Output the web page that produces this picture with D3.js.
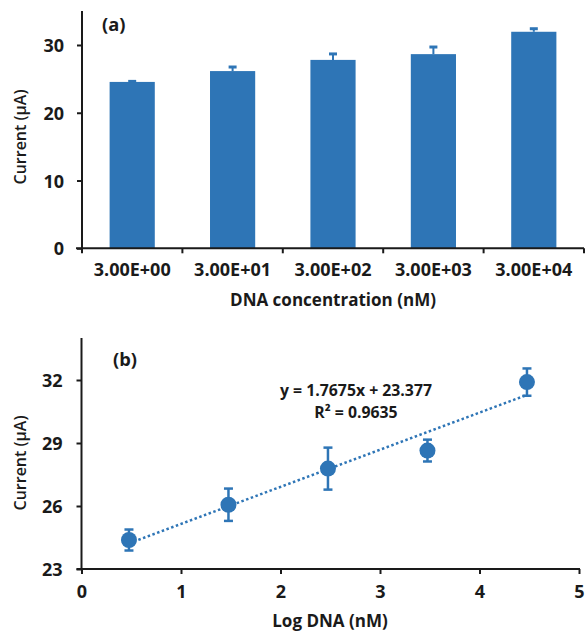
<!DOCTYPE html>
<html>
<head>
<meta charset="utf-8">
<script src="https://cdn.jsdelivr.net/npm/d3@7"></script>
<style>
  html, body { margin: 0; padding: 0; background: #fff; }
  svg { display: block; }
  text { font-family: "Open Sans", Lato, sans-serif; fill: #1a1a1a; }
</style>
</head>
<body>
<svg id="chart" width="587" height="631"></svg>
<script>
// ---- data ----
const categories = ["3.00E+00", "3.00E+01", "3.00E+02", "3.00E+03", "3.00E+04"];
const barValues = [24.55, 26.15, 27.8, 28.65, 31.95];
const barErrors = [0.08, 0.6, 0.88, 1.05, 0.45];
const barYTicks = [0, 10, 20, 30];

const logDNA = [0.477, 1.477, 2.477, 3.477, 4.477];
const scatterValues = [24.38, 26.06, 27.78, 28.64, 31.9];
const scatterErrors = [0.5, 0.77, 1.0, 0.52, 0.65];
const scatterXTicks = [0, 1, 2, 3, 4, 5];
const scatterYTicks = [23, 26, 29, 32];
const fitSlope = 1.7675;
const fitIntercept = 23.377;
const fitR2 = "0.9635";

const blue = "#2E75B6";
const axisColor = "#1a1a1a";
const svg = d3.select("#chart");

// font size that makes a sample string a given width
function sizeFor(str, weight, targetWidth) {
  const t = svg.append("text").attr("font-size", 20).attr("font-weight", weight).text(str);
  const w = t.node().getComputedTextLength();
  t.remove();
  return 20 * targetWidth / w;
}
const tickSize = sizeFor("3.00E+00", 700, 77);
const titleSize = sizeFor("DNA concentration (nM)", 700, 206);
const yTitleSize = sizeFor("Current (µA)", 600, 95);
const eqSize = Math.min(15.8, sizeFor("y = 1.7675x + 23.377", 700, 157));
const panelSize = sizeFor("(b)", 700, 24);

function styleAxis(g) {
  g.select(".domain").remove();
  g.selectAll(".tick line").attr("stroke", axisColor).attr("stroke-width", 2);
  g.selectAll(".tick text").attr("font-size", tickSize).attr("font-weight", 700).attr("fill", axisColor)
    .style("font-family", '"Open Sans", sans-serif');
}

// ================= (a) bar chart =================
const xA = d3.scaleBand().domain(categories).range([82, 584]).paddingInner(0.55).paddingOuter(0.275);
const yA = d3.scaleLinear().domain([0, 35]).range([248.3, 11.1]);

const gA = svg.append("g");
gA.selectAll("rect.bar").data(categories).join("rect")
  .attr("class", "bar")
  .attr("x", d => xA(d))
  .attr("width", xA.bandwidth())
  .attr("y", (d, i) => yA(barValues[i]))
  .attr("height", (d, i) => yA(0) - yA(barValues[i]))
  .attr("fill", blue);
categories.forEach((c, i) => {
  const cx = xA(c) + xA.bandwidth() / 2;
  gA.append("line").attr("x1", cx).attr("x2", cx)
    .attr("y1", yA(barValues[i])).attr("y2", yA(barValues[i] + barErrors[i]))
    .attr("stroke", blue).attr("stroke-width", 2);
  gA.append("line").attr("x1", cx - 4).attr("x2", cx + 4)
    .attr("y1", yA(barValues[i] + barErrors[i])).attr("y2", yA(barValues[i] + barErrors[i]))
    .attr("stroke", blue).attr("stroke-width", 3);
});
const yAxisA = gA.append("g").attr("transform", `translate(${xA.range()[0]},0)`)
  .call(d3.axisLeft(yA).tickValues(barYTicks).tickSize(5).tickPadding(13).tickFormat(d3.format("d")));
styleAxis(yAxisA);
yAxisA.selectAll(".tick text").attr("dy", "0.36em");
gA.append("line").attr("x1", xA.range()[0]).attr("x2", xA.range()[0])
  .attr("y1", yA(35)).attr("y2", yA(0) + 1).attr("stroke", axisColor).attr("stroke-width", 2);
const xAxisA = gA.append("g").attr("transform", `translate(0,${yA(0)})`)
  .call(d3.axisBottom(xA).tickSize(0).tickPadding(15));
styleAxis(xAxisA);
xAxisA.selectAll(".tick text").attr("dy", "0.71em");
gA.append("line").attr("x1", xA.range()[0] - 6).attr("x2", xA.range()[1])
  .attr("y1", yA(0)).attr("y2", yA(0)).attr("stroke", axisColor).attr("stroke-width", 2);
d3.range(categories.length + 1).forEach(k => {
  const bx = xA.range()[0] + k * xA.step();
  gA.append("line").attr("x1", bx).attr("x2", bx).attr("y1", yA(0)).attr("y2", yA(0) + 5)
    .attr("stroke", axisColor).attr("stroke-width", 2);
});
gA.append("text").attr("x", 333).attr("y", 306).attr("text-anchor", "middle")
  .attr("font-size", titleSize).attr("font-weight", 700).text("DNA concentration (nM)");
gA.append("text").attr("transform", "translate(26,137) rotate(-90)").attr("text-anchor", "middle")
  .attr("font-size", yTitleSize).attr("font-weight", 600).text("Current (µA)");
gA.append("text").attr("x", 102).attr("y", 31).attr("font-size", panelSize).attr("font-weight", 700).text("(a)");

// ================= (b) scatter chart =================
const xB = d3.scaleLinear().domain([0, 5]).range([81.5, 579]);
const yB = d3.scaleLinear().domain([23, 34]).range([569, 338]);
const gB = svg.append("g");

const yAxisB = gB.append("g").attr("transform", `translate(${xB(0)},0)`)
  .call(d3.axisLeft(yB).tickValues(scatterYTicks).tickSize(5).tickPadding(14).tickFormat(d3.format("d")));
styleAxis(yAxisB);
yAxisB.selectAll(".tick text").attr("dy", "0.36em");
gB.append("line").attr("x1", xB(0)).attr("x2", xB(0))
  .attr("y1", yB(34)).attr("y2", yB(23) + 1).attr("stroke", axisColor).attr("stroke-width", 2);
const xAxisB = gB.append("g").attr("transform", `translate(0,${yB(23)})`)
  .call(d3.axisBottom(xB).tickValues(scatterXTicks).tickSize(5).tickPadding(11).tickFormat(d3.format("d")));
styleAxis(xAxisB);
xAxisB.selectAll(".tick text").attr("dy", "0.71em");
gB.append("line").attr("x1", xB(0) - 5).attr("x2", xB(5) + 1)
  .attr("y1", yB(23)).attr("y2", yB(23)).attr("stroke", axisColor).attr("stroke-width", 2);

const fitX = [logDNA[0], logDNA[logDNA.length - 1]];
gB.append("line")
  .attr("x1", xB(fitX[0])).attr("y1", yB(fitSlope * fitX[0] + fitIntercept))
  .attr("x2", xB(fitX[1])).attr("y2", yB(fitSlope * fitX[1] + fitIntercept))
  .attr("stroke", blue).attr("stroke-width", 2.5).attr("stroke-dasharray", "2.5,2.5");

logDNA.forEach((x, i) => {
  const cx = xB(x), top = yB(scatterValues[i] + scatterErrors[i]), bot = yB(scatterValues[i] - scatterErrors[i]);
  gB.append("line").attr("x1", cx).attr("x2", cx).attr("y1", top).attr("y2", bot)
    .attr("stroke", blue).attr("stroke-width", 2.5);
  [top, bot].forEach(yy => gB.append("line").attr("x1", cx - 4.5).attr("x2", cx + 4.5)
    .attr("y1", yy).attr("y2", yy).attr("stroke", blue).attr("stroke-width", 2.5));
});
gB.selectAll("circle.pt").data(logDNA).join("circle")
  .attr("class", "pt")
  .attr("cx", d => xB(d))
  .attr("cy", (d, i) => yB(scatterValues[i]))
  .attr("r", 8)
  .attr("fill", blue);

// trendline label (two lines)
gB.append("text").attr("x", 356).attr("y", 396).attr("text-anchor", "middle")
  .attr("font-size", eqSize).attr("font-weight", 700)
  .text(`y = ${fitSlope}x + ${fitIntercept}`);
gB.append("text").attr("x", 356).attr("y", 418).attr("text-anchor", "middle")
  .attr("font-size", eqSize).attr("font-weight", 700)
  .text(`R² = ${fitR2}`);

gB.append("text").attr("x", 330).attr("y", 627).attr("text-anchor", "middle")
  .attr("font-size", titleSize).attr("font-weight", 700).text("Log DNA (nM)");
gB.append("text").attr("transform", "translate(26,463) rotate(-90)").attr("text-anchor", "middle")
  .attr("font-size", yTitleSize).attr("font-weight", 600).text("Current (µA)");
gB.append("text").attr("x", 113).attr("y", 366).attr("font-size", panelSize).attr("font-weight", 700).text("(b)");
</script>
</body>
</html>
